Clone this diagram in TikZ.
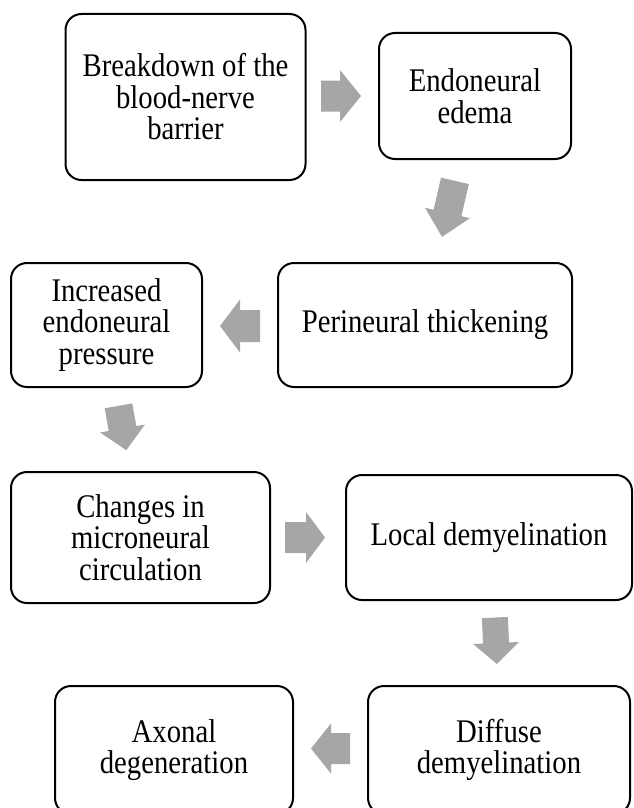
\documentclass[tikz,border=0pt]{standalone}
\usepackage{fontspec}
\setmainfont{Liberation Serif}
\newfontfamily\boxfont{Liberation Serif}[FakeStretch=0.87]
\definecolor{arrowgray}{HTML}{A6A6A6}
\tikzset{
  box/.style={draw=black, line width=2pt, rounded corners=16pt, fill=white,
    align=center, inner sep=0pt,
    font=\boxfont\fontsize{33}{31.5}\selectfont},
  blockarrow/.style={fill=arrowgray, draw=none}
}
% #1 cx, #2 cy (head base centre), #3 angle, #4 shaft length, #5 head length, #6 shaft width, #7 head width
\newcommand\myblockarrow[7]{%
  \begin{scope}[shift={(#1,#2)}, rotate=#3]
    \fill[blockarrow] (-#4,-#6/2) -- (0,-#6/2) -- (0,-#7/2) -- (#5,0) -- (0,#7/2) -- (0,#6/2) -- (-#4,#6/2) -- cycle;
  \end{scope}}
\begin{document}
\begin{tikzpicture}[x=1pt, y=-1pt]
\useasboundingbox (0,0) rectangle (634,808);
\clip (0,0) rectangle (634,808);
\node[box, minimum width=240pt, minimum height=166pt] (b1) at (185.5,97) {Breakdown of the\\blood-nerve\\barrier};
\node[box, minimum width=192pt, minimum height=126pt] (b2) at (475,96) {Endoneural\\edema};
\node[box, minimum width=294pt, minimum height=124pt] (b3) at (425,325) {Perineural thickening};
\node[box, minimum width=191pt, minimum height=124pt] (b4) at (106.5,325) {Increased\\endoneural\\pressure};
\node[box, minimum width=259pt, minimum height=131pt] (b5) at (140.5,537.5) {Changes in\\microneural\\circulation};
\node[box, minimum width=286pt, minimum height=125pt] (b6) at (489,537.5) {Local demyelination};
\node[box, minimum width=262pt, minimum height=128pt] (b8) at (499,750) {Diffuse\\demyelination};
\node[box, minimum width=238pt, minimum height=128pt] (b7) at (174,750) {Axonal\\degeneration};
% block arrows
\myblockarrow{340}{96}{0}{19}{21}{31}{52}
\myblockarrow{447.5}{213}{257}{33}{24.5}{28.6}{46}
\myblockarrow{240}{326}{180}{20}{20}{32}{53}
\myblockarrow{122.5}{428.5}{280}{23}{22}{28}{45.5}
\myblockarrow{306}{537.5}{0}{21}{19}{31}{51}
\myblockarrow{496}{643}{272.5}{25.5}{21}{26}{46}
\myblockarrow{331}{748.5}{180}{19}{20}{31}{50}
\end{tikzpicture}
\end{document}
